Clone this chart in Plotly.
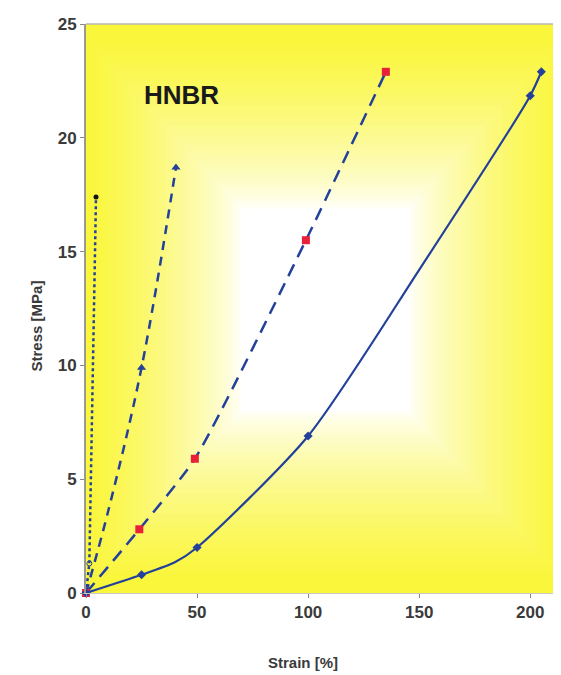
import plotly.graph_objects as go

# ---- data ----
s1_x = [0, 1.5, 4.5]
s1_y = [0, 1.3, 17.4]
s2_x = [0, 10, 25, 40.5]
s2_y = [0, 3.6, 9.9, 18.7]
s2_mx = [25, 40.5]
s2_my = [9.9, 18.7]
s3_x = [0, 24, 49, 99, 135]
s3_y = [0, 2.8, 5.9, 15.5, 22.9]
s4_x = [0, 25, 40, 50, 100, 150, 200, 205]
s4_y = [0, 0.8, 1.35, 2.0, 6.9, 14.2, 21.85, 22.9]
s4_mx = [0, 25, 50, 100, 200, 205]
s4_my = [0, 0.8, 2.0, 6.9, 21.85, 22.9]
x_ticks = [0, 50, 100, 150, 200]
y_ticks = [0, 5, 10, 15, 20, 25]

BLUE = "#23419a"
RED = "#e8203a"

fig = go.Figure()

fig.add_trace(go.Scatter(x=s1_x, y=s1_y, mode="lines", line=dict(color=BLUE, width=2.5, dash="dot"),
                         showlegend=False, hoverinfo="skip"))
fig.add_trace(go.Scatter(x=[s1_x[1]], y=[s1_y[1]], mode="markers",
                         marker=dict(symbol="circle-open", size=5, color=BLUE), showlegend=False))
fig.add_trace(go.Scatter(x=[s1_x[-1]], y=[s1_y[-1]], mode="markers",
                         marker=dict(symbol="circle", size=5, color="#111111"), showlegend=False))

fig.add_trace(go.Scatter(x=s2_x, y=s2_y, mode="lines", line=dict(color=BLUE, width=2.5, dash="9px,7px", shape="spline"),
                         showlegend=False, hoverinfo="skip"))
fig.add_trace(go.Scatter(x=s2_mx, y=s2_my, mode="markers",
                         marker=dict(symbol="triangle-up", size=8, color=BLUE), showlegend=False))

fig.add_trace(go.Scatter(x=s3_x, y=s3_y, mode="lines", line=dict(color=BLUE, width=2.5, dash="13px,8px", shape="spline", smoothing=0.6),
                         showlegend=False, hoverinfo="skip"))
fig.add_trace(go.Scatter(x=s3_x, y=s3_y, mode="markers",
                         marker=dict(symbol="square", size=8, color=RED), showlegend=False))

fig.add_trace(go.Scatter(x=s4_x, y=s4_y, mode="lines", line=dict(color=BLUE, width=2.2, shape="spline", smoothing=0.7),
                         showlegend=False, hoverinfo="skip"))
fig.add_trace(go.Scatter(x=s4_mx, y=s4_my, mode="markers",
                         marker=dict(symbol="diamond", size=7, color=BLUE), showlegend=False))

# ---- background: yellow with a white blurred rectangle in the centre ----
shapes = []
core = (0.33, 0.685, 0.32, 0.675)
N = 40
halo_x, halo_y = 0.33, 0.30
yel = (250, 246, 60)
for i in range(N + 1):
    t = i / N  # 0 outer -> 1 inner
    ext = (1 - t) ** 1.3
    w = t ** 1.1
    col = tuple(int(round(yel[k] + (255 - yel[k]) * w)) for k in range(3))
    shapes.append(dict(type="rect", xref="paper", yref="paper", layer="below",
                       x0=core[0] - halo_x * ext, x1=core[1] + halo_x * ext,
                       y0=core[2] - halo_y * ext, y1=core[3] + halo_y * ext,
                       line=dict(width=0), fillcolor="rgb(%d,%d,%d)" % col))
# top border
shapes.append(dict(type="line", xref="paper", yref="paper", x0=0, x1=1, y0=1, y1=1,
                   line=dict(color="#b8b8b0", width=1.5)))

fig.update_layout(
    width=553, height=667,
    margin=dict(l=78, r=3, t=16, b=82, autoexpand=False),
    paper_bgcolor="white",
    plot_bgcolor="rgb(250,246,60)",
    shapes=shapes,
    font=dict(family="Liberation Sans, Arial, sans-serif", color="#404040"),
    annotations=[
        dict(x=43, y=21.9, xref="x", yref="y", text="<b>HNBR</b>", showarrow=False,
             font=dict(size=26, color="#1a1a1a", family="Liberation Sans, Arial, sans-serif")),
        dict(x=-0.104, y=0.47, xref="paper", yref="paper", text="<b>Stress [MPa]</b>", showarrow=False,
             xanchor="center", yanchor="middle",
             textangle=-90, font=dict(size=15, color="#3a3a3a")),
        dict(x=0.46, y=-0.123, xref="paper", yref="paper", text="<b>Strain [%]</b>", showarrow=False,
             xanchor="center", yanchor="middle",
             font=dict(size=15, color="#3a3a3a")),
    ],
)
fig.update_xaxes(range=[0, 212.5], tickvals=x_ticks, ticktext=["<b>%d</b>" % v for v in x_ticks],
                 automargin=False,
                 showgrid=False, zeroline=False, showline=True, linecolor="#c8c8c0", linewidth=1,
                 ticks="outside", ticklen=4, tickcolor="#888888",
                 tickfont=dict(size=17, color="#3a3a3a"))
fig.update_yaxes(range=[0, 25], tickvals=y_ticks, ticktext=["<b>%d</b>" % v for v in y_ticks],
                 automargin=False,
                 showgrid=False, zeroline=False, showline=True, linecolor="#9a9a90", linewidth=2,
                 ticks="outside", ticklen=4, tickcolor="#888888",
                 tickfont=dict(size=17, color="#3a3a3a"))
for tr in fig.data:
    tr.cliponaxis = False

fig.write_html("out.html")
